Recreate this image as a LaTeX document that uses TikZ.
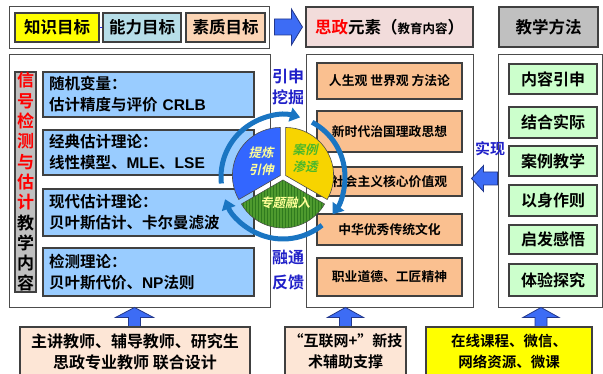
\documentclass[tikz,border=0pt]{standalone}
\usepackage{fontspec}
\setmainfont{Noto Sans CJK SC}[BoldFont={Noto Sans CJK SC Bold}]
\newfontfamily\lat{Liberation Sans}[BoldFont={Liberation Sans Bold}]
\newfontfamily\pieit{Noto Sans CJK SC Bold}[FakeSlant=0.22]
\usetikzlibrary{arrows.meta,calc,patterns}
\definecolor{cYellow}{HTML}{FFFF00}
\definecolor{cAbil}{HTML}{B7DEE8}
\definecolor{cQual}{HTML}{FCD5B5}
\definecolor{cPink}{HTML}{F2DCDB}
\definecolor{cGray}{HTML}{C0C0C0}
\definecolor{cBlueBox}{HTML}{99CCFF}
\definecolor{cOrange}{HTML}{FAC090}
\definecolor{cGreen}{HTML}{CCFFCC}
\definecolor{cPeach}{HTML}{FDE6D6}
\definecolor{cLab}{HTML}{2020C8}
\definecolor{cArrow}{HTML}{3D6CF5}
\definecolor{cArrowDk}{HTML}{22378C}
\definecolor{cRing}{HTML}{1A75C2}
\definecolor{cPieBlue}{HTML}{3366FF}
\definecolor{cPieYellow}{HTML}{F7D400}
\definecolor{cPieGreen}{HTML}{4E9A2E}
\definecolor{cPieGreenDk}{HTML}{2F7A1E}
\definecolor{cLtYellow}{HTML}{FFFF99}
\definecolor{cGreenTxt}{HTML}{4CB82A}
\newcommand\rbox[7]{\node[#1, minimum width={#5pt-#3pt}, minimum height={#6pt-#4pt}] (#2) at ({(#3+#5)/2},{(#4+#6)/2}) {#7};}
\newcommand\fatarr[6]{\fill[fatarrow, shift={#1}, rotate=#2] (0,-#4) -- ({#3-#6},-#4) -- ({#3-#6},-#5) -- (#3,0) -- ({#3-#6},#5) -- ({#3-#6},#4) -- (0,#4) -- cycle;}
\newcommand\rc[1]{\textcolor{red}{#1}}
\begin{document}
\begin{tikzpicture}[x=1pt,y=-1pt,
  frame/.style={draw=black!70, line width=0.9pt, fill=white, inner sep=0pt},
  cbox/.style={draw=black!75, line width=1.3pt, inner sep=0pt, font=\bfseries},
  hdr/.style={cbox, font=\bfseries\fontsize{16.5}{18}\selectfont},
  bluebox/.style={cbox, fill=cBlueBox, align=left, text width=199pt, inner xsep=6pt, font=\bfseries\fontsize{15.5}{21}\selectfont},
  orbox/.style={cbox, fill=cOrange, font=\bfseries\fontsize{12.8}{15}\selectfont},
  grbox/.style={cbox, fill=cGreen, font=\bfseries\fontsize{16}{18}\selectfont},
  lab/.style={text=cLab, align=center, inner sep=0pt},
  pietxt/.style={align=center, inner sep=0pt, font=\pieit\fontsize{12.5}{17}\selectfont},
  fatarrow/.style={fill=cArrow, draw=cArrowDk, line width=0.8pt},
  ring/.style={line width=5pt, draw=cRing, -{Triangle[width=14pt,length=10pt]}},
  piesec/.style={draw=black!70, line width=0.6pt}
]
\useasboundingbox (0,0) rectangle (603,374);
\clip (0,0) rectangle (603,374);

% ---- top row
\rbox{frame}{topframe}{9}{6}{269}{48}{}
\rbox{hdr, fill=cYellow}{zs}{15}{13}{99}{42}{知识目标}
\rbox{hdr, fill=cAbil}{nl}{103}{13}{181}{42}{能力目标}
\rbox{hdr, fill=cQual}{sz}{186}{13}{265}{42}{素质目标}
\draw[blue!80, line width=0.8pt] (zs.east) -- (nl.west);
\rbox{hdr, fill=cPink}{szys}{306}{7}{473}{47}{\rc{思政}元素（{\fontsize{12.5}{14}\selectfont 教育内容}）}
\rbox{hdr, fill=cGray}{jxff}{499}{7}{598}{47}{教学方法}
\fatarr{($(topframe.east)+(5,0)$)}{0}{28}{8}{18}{11}

% ---- big frames
\rbox{frame}{L}{9}{54}{270}{307}{}
\rbox{frame}{M}{306}{54}{473}{307}{}
\rbox{frame}{R}{498}{54}{602}{307}{}

% vertical label
\node[cbox, fill=cGray, minimum width=21pt, minimum height=220pt, align=center,
      font=\bfseries\fontsize{17}{20.3}\selectfont] (vl) at (25.5,182)
  {\rc{信}\\\rc{号}\\\rc{检}\\\rc{测}\\\rc{与}\\\rc{估}\\\rc{计}\\教\\学\\内\\容};

% left content boxes
\rbox{bluebox}{b1}{43}{72}{254}{117}{随机变量：\\估计精度与评价 {\lat\bfseries CRLB}}
\rbox{bluebox}{b2}{43}{130}{254}{175}{经典估计理论：\\线性模型、{\lat\bfseries MLE}、{\lat\bfseries LSE}}
\rbox{bluebox}{b3}{43}{189}{254}{236}{现代估计理论：\\贝叶斯估计、卡尔曼滤波}
\rbox{bluebox}{b4}{43}{248}{254}{296}{检测理论：\\贝叶斯代价、{\lat\bfseries NP}法则}

% middle content boxes
\rbox{orbox}{o1}{317}{63}{462}{99}{人生观 世界观 方法论}
\rbox{orbox}{o2}{317}{111}{462}{152}{新时代治国理政思想}
\rbox{orbox}{o3}{317}{167}{462}{196}{社会主义核心价值观}
\rbox{orbox}{o4}{317}{214}{462}{245}{中华优秀传统文化}
\rbox{orbox}{o5}{317}{258}{462}{296}{职业道德、工匠精神}

% right content boxes
\rbox{grbox}{g1}{509}{64}{597}{94}{内容引申}
\rbox{grbox}{g2}{509}{107}{597}{138}{结合实际}
\rbox{grbox}{g3}{509}{146}{597}{176}{案例教学}
\rbox{grbox}{g4}{509}{185}{597}{216}{以身作则}
\rbox{grbox}{g5}{509}{225}{597}{254}{启发感悟}
\rbox{grbox}{g6}{509}{264}{597}{296}{体验探究}

% labels
\node[lab, font=\bfseries\fontsize{16}{20.5}\selectfont] (yswj) at (288,87) {引申\\挖掘};
\node[lab, font=\bfseries\fontsize{16}{25}\selectfont] (rtfk) at (288,270.5) {融通\\反馈};
\node[lab, font=\bfseries\fontsize{15}{17}\selectfont] (sx) at (490,149) {实现};
\fatarr{($(R.west)+(0,-2)$)}{180}{26}{6.5}{13}{12}

% ---- pie
\coordinate (pc) at (283,177);
\fill[cPieBlue, piesec] ($(pc)+(-150:3)$) -- ++(-90:48) arc[start angle=-90, end angle=-210, radius=48] -- cycle;
\fill[cPieYellow, piesec] ($(pc)+(-30:3)$) -- ++(30:48) arc[start angle=30, end angle=-90, radius=48] -- cycle;
\fill[cPieGreen, piesec] ($(pc)+(90:3)$) -- ++(-210:48) arc[start angle=-210, end angle=-330, radius=48] -- cycle;
\fill[pattern=vertical lines, pattern color=cPieGreenDk] ($(pc)+(90:3)$) -- ++(-210:48) arc[start angle=-210, end angle=-330, radius=48] -- cycle;
\node[pietxt, text=cLtYellow] (tl) at (261,161.5) {提炼\\引伸};
\node[pietxt, text=cGreenTxt] (al) at (305,158) {案例\\渗透};
\node[pietxt, text=cLtYellow] (zt) at (285,203) {专题融入};

% ring arrows
\draw[ring] ($(pc)+(-186:62)$) arc[start angle=-186, end angle=-74, radius=62];
\draw[ring] ($(pc)+(-62:62)$) arc[start angle=-62, end angle=37, radius=62];
\draw[ring] ($(pc)+(51:62)$) arc[start angle=51, end angle=159, radius=62];

% ---- bottom row
\fatarr{($(L.south)+(-5,20)$)}{90}{20}{6}{19}{10}
\fatarr{($(M.south)+(-44,20)$)}{90}{20}{6}{18}{10}
\fatarr{($(R.south)+(-9,20)$)}{90}{20}{6}{18}{10}
\rbox{cbox, fill=cPeach, align=center, font=\bfseries\fontsize{16}{21}\selectfont}{s1}{20}{327}{250}{376}{主讲教师、辅导教师、研究生\\思政专业教师\ 联合设计}
\rbox{cbox, fill=cPeach, align=center, font=\bfseries\fontsize{15}{21}\selectfont}{s2}{285}{327}{406}{376}{“互联网+”新技\\术辅助支撑}
\rbox{cbox, fill=cYellow, align=center, font=\bfseries\fontsize{14.5}{21}\selectfont}{s3}{426}{327}{592}{376}{在线课程、微信、\\网络资源、微课}
\end{tikzpicture}
\end{document}
